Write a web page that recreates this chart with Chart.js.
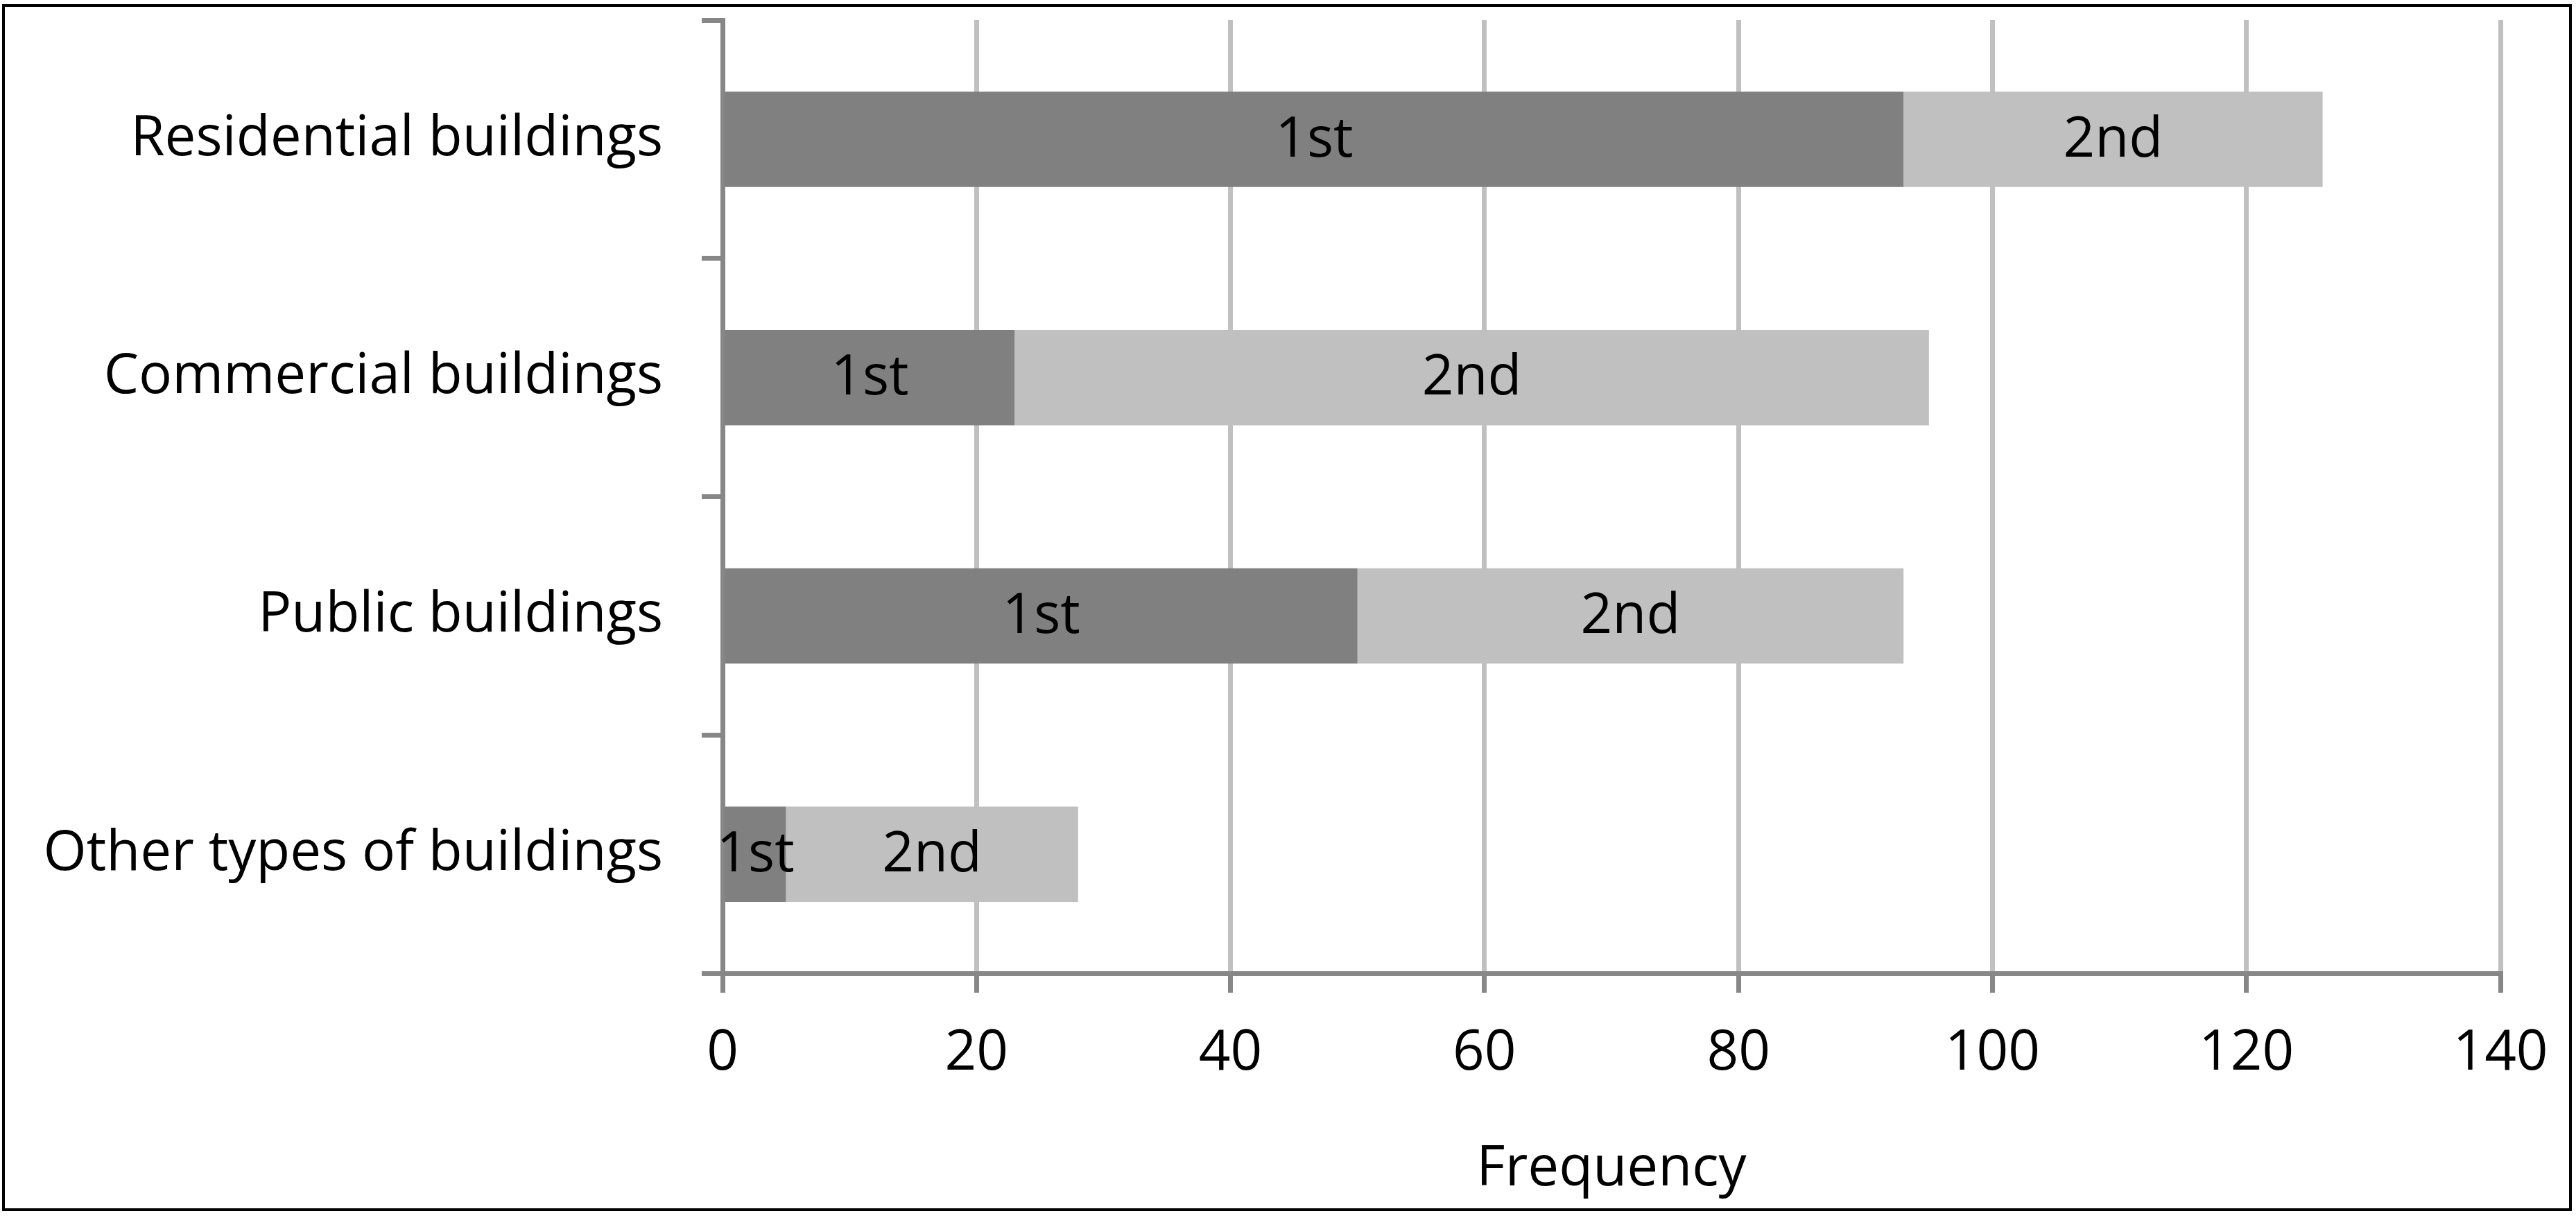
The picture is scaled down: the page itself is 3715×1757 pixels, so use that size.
<!DOCTYPE html>
<html>
<head>
<meta charset="utf-8">
<script src="https://cdn.jsdelivr.net/npm/chart.js@4.4.1/dist/chart.umd.min.js"></script>
<style>
  html, body { margin: 0; padding: 0; background: #ffffff; }
  #wrap { position: absolute; left: 0; top: 0; width: 3715px; height: 1757px; }
</style>
</head>
<body>
<div id="wrap"><canvas id="c" width="3715" height="1757"></canvas></div>
<script>
const categories = ["Residential buildings", "Commercial buildings", "Public buildings", "Other types of buildings"];
const firstValues = [93, 23, 50, 5];
const secondValues = [33, 72, 43, 23];
const seriesNames = ["1st", "2nd"];
const xTicks = [0, 20, 40, 60, 80, 100, 120, 140];
const axisTitle = "Frequency";

const FONT = "'Open Sans', sans-serif";
const FSIZE = 80;

const borderPlugin = {
  id: 'outerBorder',
  afterDraw(chart) {
    const ctx = chart.ctx;
    ctx.save();
    ctx.strokeStyle = '#000000';
    ctx.lineWidth = 4;
    ctx.strokeRect(5, 8, 3702, 1737);
    ctx.restore();
  }
};

const labelPlugin = {
  id: 'segLabels',
  afterDatasetsDraw(chart) {
    const ctx = chart.ctx;
    ctx.save();
    ctx.fillStyle = '#000000';
    ctx.font = FSIZE + 'px ' + FONT;
    ctx.textAlign = 'center';
    ctx.textBaseline = 'middle';
    chart.data.datasets.forEach((ds, di) => {
      const meta = chart.getDatasetMeta(di);
      meta.data.forEach((bar) => {
        const cx = (bar.x + bar.base) / 2;
        ctx.fillText(ds.label, cx, bar.y + 2);
      });
    });
    ctx.restore();
  }
};

new Chart(document.getElementById('c'), {
  type: 'bar',
  data: {
    labels: categories,
    datasets: [
      { label: seriesNames[0], data: firstValues, backgroundColor: '#808080', borderWidth: 0 },
      { label: seriesNames[1], data: secondValues, backgroundColor: '#c0c0c0', borderWidth: 0 }
    ]
  },
  options: {
    indexAxis: 'y',
    responsive: false,
    animation: false,
    events: [],
    categoryPercentage: 1.0,
    barPercentage: 0.4,
    layout: { padding: { top: 29, right: 109, left: 0, bottom: 0 } },
    plugins: {
      legend: { display: false },
      tooltip: { enabled: false },
      title: { display: false }
    },
    scales: {
      x: {
        stacked: true,
        min: 0,
        max: 140,
        afterBuildTicks(scale) { scale.ticks = xTicks.map(v => ({ value: v })); },
        afterFit(scale) {
          scale.height = 1757 - 1404;
          scale.paddingLeft = 0;
          scale.paddingRight = 0;
        },
        grid: {
          color: '#c0c0c0',
          lineWidth: 7,
          drawTicks: true,
          tickLength: 28,
          tickColor: '#878787',
          tickWidth: 7
        },
        border: { display: true, color: '#878787', width: 7 },
        ticks: {
          color: '#000000',
          font: { family: FONT, size: FSIZE },
          padding: 40,
          maxRotation: 0
        },
        title: {
          display: true,
          text: axisTitle,
          color: '#000000',
          font: { family: FONT, size: FSIZE },
          padding: { top: 0, bottom: 22 }
        }
      },
      y: {
        stacked: true,
        afterFit(scale) {
          scale.width = 1042;
          scale.paddingTop = 0;
          scale.paddingBottom = 0;
        },
        grid: {
          offset: true,
          drawOnChartArea: false,
          drawTicks: true,
          tickLength: 30,
          tickColor: '#878787',
          tickWidth: 7
        },
        border: { display: true, color: '#878787', width: 7 },
        ticks: {
          color: '#000000',
          font: { family: FONT, size: FSIZE },
          padding: 56,
          crossAlign: 'near'
        }
      }
    }
  },
  plugins: [labelPlugin, borderPlugin]
});
</script>
</body>
</html>
